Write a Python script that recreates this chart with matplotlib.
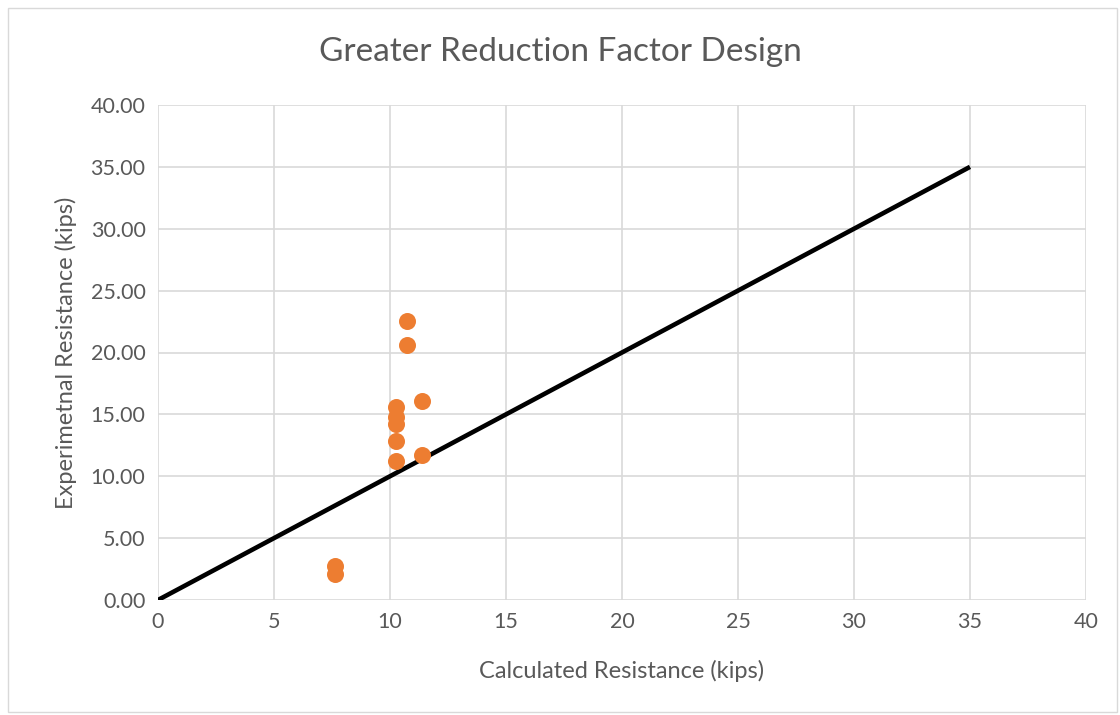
import matplotlib
matplotlib.use("Agg")
import matplotlib.pyplot as plt
from matplotlib.patches import Rectangle

calc = [7.63, 7.63, 10.27, 10.27, 10.27, 10.27, 10.27, 10.75, 10.75, 11.39, 11.39]
expt = [2.75, 2.10, 15.60, 14.80, 14.20, 12.85, 11.25, 22.55, 20.60, 16.10, 11.70]
line_x = [0, 35]
line_y = [0, 35]
xticks = [0, 5, 10, 15, 20, 25, 30, 35, 40]
yticks = [0, 5, 10, 15, 20, 25, 30, 35, 40]

plt.rcParams['font.family'] = ['Lato', 'DejaVu Sans']
txt = '#595959'

fig = plt.figure(figsize=(11.2, 7.15), dpi=100)
fig.patches.append(Rectangle((8/1120, 0.004), 1 - 8/1120 - 0.003, 1 - 8/715 - 0.004,
                             transform=fig.transFigure, fill=False,
                             edgecolor='#d9d9d9', linewidth=1))
ax = fig.add_axes([158/1120, 1 - 600/715, (1086 - 158)/1120, (600 - 105)/715])
ax.set_xlim(0, 40)
ax.set_ylim(0, 40)
ax.set_xticks(xticks)
ax.set_yticks(yticks)
ax.set_xticklabels([str(t) for t in xticks])
ax.set_yticklabels([f"{t:.2f}" for t in yticks])
ax.grid(True, color='#d9d9d9', linewidth=1.2)
ax.set_axisbelow(True)
for s in ax.spines.values():
    s.set_visible(False)
ax.tick_params(length=0, colors=txt, labelsize=15.5, pad=9)

ax.plot(line_x, line_y, color='black', linewidth=3.3, zorder=3, solid_capstyle='butt')
ax.scatter(calc, expt, s=150, color='#ed7d31', zorder=4, linewidths=0)

ax.set_xlabel('Calculated Resistance (kips)', color=txt, fontsize=17, labelpad=20)
ax.set_ylabel('Experimetnal Resistance (kips)', color=txt, fontsize=17, labelpad=10)
fig.text(0.5, 1 - 52/715, 'Greater Reduction Factor Design', ha='center', va='center',
         color=txt, fontsize=24)

fig.savefig('out.png', dpi=100)
